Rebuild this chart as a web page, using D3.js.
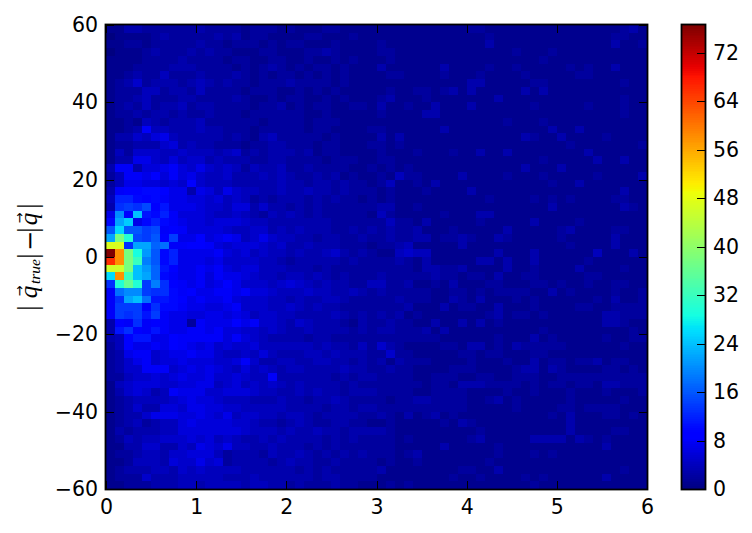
<!DOCTYPE html>
<html><head><meta charset="utf-8">
<script src="https://cdn.jsdelivr.net/npm/d3@7"></script>
<style>
html,body{margin:0;padding:0;background:#fff}
text{font-family:"DejaVu Sans";fill:#000}
</style></head><body><svg id="c" width="752" height="533"></svg>
<script>
const xTicks=[0,1,2,3,4,5,6];
const yTicks=[-60,-40,-20,0,20,40,60];
const colorTicks=[0,8,16,24,32,40,48,56,64,72];
const xDomain=[0,6], yDomain=[-60,60];
const binsX=60, binsY=60;
const nearColumns=[
[1,1,3,3,2,2,2,2],[0,1,1,1,1,2,3,2],[1,1,2,2,1,2,2,2],[0,1,1,1,2,3,2,2],[1,1,1,1,2,2,2,2],
[1,1,1,2,2,2,2,3],[1,1,2,3,2,2,4,2],[1,2,3,5,2,3,3,3],[1,2,2,2,4,4,2,3],[1,2,2,3,4,2,2,2],
[1,2,3,2,4,2,3,3],[1,2,2,3,2,3,3,2],[1,1,2,1,4,3,2,3],[1,1,2,3,8,4,4,3],[1,3,3,5,4,6,7,4],
[1,2,2,3,3,3,5,6],[1,4,2,5,5,5,4,4],[1,3,3,7,7,5,4,6],[3,8,8,3,6,6,7,8],[2,4,8,8,7,9,6,8],
[2,4,7,7,6,6,5,6],[3,8,9,9,10,10,9,7],[4,12,12,10,9,10,8,7],[3,13,14,13,15,9,11,7],[7,20,9,24,11,10,12,8],
[10,22,25,7,10,12,10,8],[16,26,16,16,14,15,8,9],[22,38,30,15,14,16,9,14],[47,47,13,22,22,17,18,8],[76.6,58,38,29,21,16,10,12],
[66,58,38,32,19,16,10,12],[46,46,38,24,21,17,11,9],[26,58,32,24,22,17,10,8],[13,30,36,30,14,19,13,9],[8,18,20,20,14,13,13,10],
[8,13,22,24,18,11,11,10],[8,14,14,14,9,13,10,10],[8,14,13,14,11,14,8,7],[3,9,8,13,8,9,8,7],[3,11,13,9,8,11,8,7],
[3,4,9,11,11,7,7,9],[2,4,9,7,7,8,7,9],[2,3,7,8,8,5,6,7],[2,3,5,7,8,5,6,6],[2,3,5,5,8,8,8,5],
[2,2,4,5,5,6,5,6],[1,4,5,6,6,6,5,5],[1,3,5,6,5,3,4,8],[1,2,3,4,4,4,4,5],[1,2,3,5,3,3,6,6],
[1,2,3,3,5,7,7,7],[1,2,3,4,2,3,4,4],[1,3,2,3,3,3,4,4],[1,2,4,3,4,4,5,5],[1,1,3,3,5,5,3,3],
[1,2,2,3,4,4,3,5],[1,1,2,4,4,4,3,6],[1,2,3,3,3,4,4,3],[1,2,2,2,5,3,3,3],[1,1,2,2,2,3,3,3]];
const farColumns=[
"2232222122212 1112211111111 1111112211111 1111111111231",
"2222323122111 1221112111111 1111111121111 1111111112211",
"2232212221212 2111211112111 1111111131111 1111111113112",
"2323221112211 1223211112211 1111111111121 1121111111111",
"3222212211221 1211212111211 1111111111111 1211111111111",
"3322221212321 2122121113111 1113111121121 1111212113111",
"2232223212122 1212121111221 1112111211112 1111122111111",
"2343232212223 2222121111111 1111113311111 2211111111211",
"3242222122211 2121211111211 2212313111113 1311111111111",
"3322223211212 2112121112311 1211111113111 1111111111211",
"4233222212231 2122112213112 1131113111111 2111112111211",
"3223222122222 2112111112111 1331111111111 1111111111211",
"3342222221222 2122211111111 1111111111211 1211111111111",
"3343322212222 2122111122111 1113111111111 1131131111111",
"3333323213422 2221211113131 1111111111113 2113111121111",
"3433222122332 2212211122121 1111111111111 1111211111112",
"5444345232333 2312211112111 2111211311311 1111113111111",
"4553433322332 2221222112211 1111111111111 1211111311311",
"6575454243342 2322221121212 1111111111113 1113111111111",
"6754453334343 2232312112142 2111131111211 1211111211113",
"5954443333343 3233232212411 2131111111111 1121131111111",
"7376475443343 3433232221211 1211113111111 1111111111311",
"7665645423233 3232322121211 1111111121111 2121211112211",
"7765546635332 3232222223311 2111111111111 1131111111321",
"6665445432434 3232222214211 1112111331111 1111111111111",
"7665666544333 3333222222422 1311111211111 3111121111111",
"8666654455343 4333223232322 3111211111311 1112311112211",
"7796787457544 3323322322322 3312232113211 1112111113111",
"8998656665453 3433322212234 1111131111111 1111211113111",
"7777865645443 4334532321145 4411111113111 3111111411131",
"7776755554432 3333323222232 1311111331311 3111112111111",
"7787865664443 3323222222222 1332231111311 2111131111211",
"7786877654434 4343232223222 2232212213112 2111112211111",
"8786797555456 5434332244223 1121311122111 2212112112211",
"8977887866544 4544334323222 2211221212222 1131211112112",
"9787786555443 4334432222232 2211321311121 2111111213112",
"8776678555445 4343322222223 1113122113111 2111122112222",
"7667767645544 3333432323231 2111111123122 1211111133222",
"7287779785543 5433321322322 1131131312111 1111111133211",
"7887866554543 3433332323322 2313111111111 1211111111121",
"8888868654333 3233222222222 2221111112111 3121111121122",
"8767565564444 4434332425321 1112213312132 2222111111211",
"7877544546433 3443433322522 1111122122111 2211111111111",
"7666556853344 3344332323132 2211112111211 3122122312211",
"6767654645434 4333343322322 1111222111123 3132111122121",
"7667556544833 3333232332222 1122211221122 2112222222222",
"6677456454543 4333323222222 2122133322221 2122122133222",
"7775566654433 4343323332222 1122221111211 2111211121112",
"6766544433343 3233432222122 3322221123121 1111211111211",
"5776655444443 3332332332222 2222221111121 1112212222111",
"6676574554434 4323333223213 1231211111111 1121311122121",
"6766665543323 4322332211211 1112132111111 1111311111111",
"6666666544434 3343323333211 1111111211111 1111311112211",
"5656454334343 3332323222212 1111112311111 3333132121111",
"5476574433433 3232322222211 1113111112111 1111111131111",
"5666423332433 4323232322212 3111111112111 2121111111111",
"5575623333234 3322322221211 2111111121111 1111111111111",
"5454444333333 2323222223111 1111122113111 1111111111211",
"4444433343333 3323322221111 1111211211112 1211111131111",
"4434444344332 3222322111212 1111111111111 2111111111111"];

const rows=nearColumns.map((near,i)=>near.concat(farColumns[i].replace(/ /g,"").split("").map(Number)));
const vMax=d3.max(rows,r=>d3.max(r));

const svg=d3.select("#c");
const L=106,R=647,T=25,B=489, CL=682,CR=705;
const x=d3.scaleLinear().domain(xDomain).range([L,R]);
const y=d3.scaleLinear().domain(yDomain).range([B,T]);
const cY=d3.scaleLinear().domain([0,vMax]).range([B,T]);

const ch=(d,r)=>d3.scaleLinear().domain(d.map(t=>t*vMax)).range(r).clamp(true);
const rC=ch([0,.35,.66,.89,1],[0,0,255,255,127.5]);
const gC=ch([0,.125,.375,.64,.91,1],[0,0,255,255,0,0]);
const bC=ch([0,.11,.34,.65,1],[127.5,255,255,0,0]);
const jet=v=>`rgb(${Math.round(rC(v))},${Math.round(gC(v))},${Math.round(bC(v))})`;

const dx=(xDomain[1]-xDomain[0])/binsX, dy=(yDomain[1]-yDomain[0])/binsY;
const cells=rows.flatMap((r,i)=>r.map((v,j)=>({i,j,v})));
svg.append("g").attr("shape-rendering","crispEdges").selectAll("rect").data(cells).join("rect")
 .attr("x",d=>x(d.j*dx)).attr("width",d=>x((d.j+1)*dx)-x(d.j*dx))
 .attr("y",d=>y(yDomain[1]-d.i*dy)).attr("height",d=>y(yDomain[1]-(d.i+1)*dy)-y(yDomain[1]-d.i*dy))
 .attr("fill",d=>jet(d.v));

// colorbar
const steps=d3.range(256).map(k=>k/256*vMax);
svg.append("g").attr("shape-rendering","crispEdges").selectAll("rect").data(steps).join("rect")
 .attr("x",CL).attr("width",CR-CL)
 .attr("y",d=>cY(d+vMax/256)).attr("height",d=>cY(d)-cY(d+vMax/256)+0.6)
 .attr("fill",d=>jet(d+vMax/512));

const fmt=d=>String(d).replace("-","\u2212");
const style=g=>{g.attr("font-size",20.5).attr("font-family","DejaVu Sans");
 g.select(".domain").remove();
 g.selectAll("line").attr("stroke","#000").attr("stroke-width",1).attr("shape-rendering","crispEdges");
 g.selectAll("text").attr("fill","#000");};
svg.append("g").attr("transform",`translate(0,${B})`).call(d3.axisBottom(x).tickValues(xTicks).tickSize(-8).tickPadding(10.5).tickFormat(fmt)).call(style);
svg.append("g").attr("transform",`translate(0,${T})`).call(d3.axisTop(x).tickValues(xTicks).tickSize(-8).tickFormat("")).call(style);
svg.append("g").attr("transform",`translate(${L},0)`).call(d3.axisLeft(y).tickValues(yTicks).tickSize(-8).tickPadding(8).tickFormat(fmt)).call(style);
svg.append("g").attr("transform",`translate(${R},0)`).call(d3.axisRight(y).tickValues(yTicks).tickSize(-8).tickFormat("")).call(style);
svg.append("g").attr("transform",`translate(${CR},0)`).call(d3.axisRight(cY).tickValues(colorTicks).tickSize(-8).tickPadding(8)).call(style);

svg.append("rect").attr("x",L-0.5).attr("y",T-0.5).attr("width",R-L+1).attr("height",B-T+1).attr("fill","none").attr("stroke","#000").attr("stroke-width",1.8);
svg.append("rect").attr("x",CL-0.5).attr("y",T-0.5).attr("width",CR-CL+1).attr("height",B-T+1).attr("fill","none").attr("stroke","#000").attr("stroke-width",1.8);

// y label: |q_true| - |q| with vector arrows, each glyph placed along the rotated axis
const labelParts=[
 {t:"|",py:308,bx:37,s:29,f:"Liberation Serif"},
 {t:"q",py:292,bx:37,s:25,f:"Liberation Serif",i:1},
 {t:"\u2192",py:291,bx:24,s:13,f:"DejaVu Sans"},
 {t:"true",py:271.5,bx:40,s:15.5,f:"Liberation Serif",i:1},
 {t:"|",py:256,bx:37,s:29,f:"Liberation Serif"},
 {t:"\u2212",py:241,bx:38,s:24,f:"DejaVu Sans"},
 {t:"|",py:230,bx:37,s:29,f:"Liberation Serif"},
 {t:"q",py:219,bx:37,s:25,f:"Liberation Serif",i:1},
 {t:"\u2192",py:218,bx:24,s:13,f:"DejaVu Sans"},
 {t:"|",py:206,bx:37,s:29,f:"Liberation Serif"}];
svg.append("g").selectAll("text").data(labelParts).join("text")
 .attr("transform",d=>`translate(${d.bx},${d.py}) rotate(-90)`).attr("text-anchor","middle")
 .style("font-family",d=>`'${d.f}'`).style("font-style",d=>d.i?"italic":"normal").attr("font-size",d=>d.s).text(d=>d.t);
</script></body></html>
